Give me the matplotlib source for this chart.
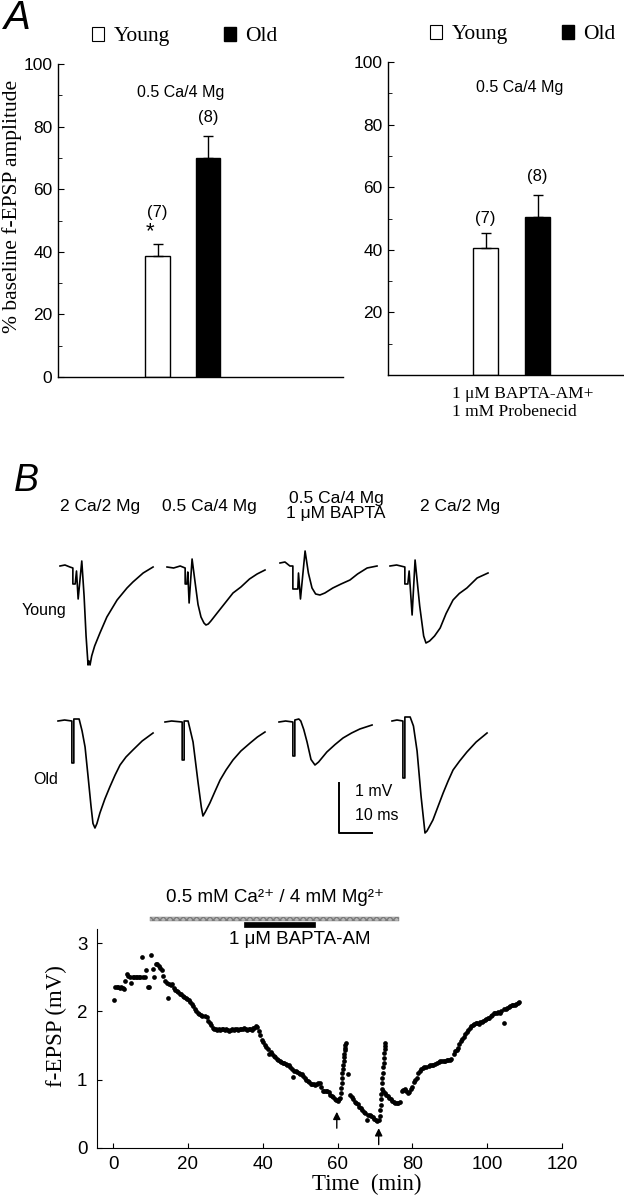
import matplotlib
matplotlib.use('Agg')
import matplotlib.pyplot as plt
from matplotlib.patches import Patch, Rectangle

plt.rcParams['font.family'] = ['Liberation Sans', 'DejaVu Sans']
SERIF = ['Liberation Serif', 'DejaVu Serif']

W, H = 624, 1199  # figure size in px

# ---------------- panel A data ----------------
groups = ['Young', 'Old']
ctrl_mean = [38.5, 70.0]
ctrl_sem = [4.0, 7.0]
bapta_mean = [40.5, 50.5]
bapta_sem = [5.0, 7.0]
n_cells = [7, 8]

# ---------------- panel B traces (ms, mV from baseline) ----------------
young1_t = [0, 1.5, 3.0, 3.9, 3.9, 4.6, 5.0, 5.5, 6.6, 7.3, 7.9, 8.5, 8.8, 9.1, 9.6, 10.5, 12.1, 14.2, 17.3, 20.3, 22.1, 25.2, 28.2]
young1_v = [0, 0.02, -0.02, -0.04, -0.36, -0.36, -0.1, -0.66, 0.1, -0.6, -1.4, -1.98, -1.9, -1.98, -1.8, -1.6, -1.34, -1.02, -0.68, -0.44, -0.32, -0.14, -0.02]
young2_t = [0, 2.0, 4.0, 5.5, 5.5, 6.0, 6.3, 6.7, 7.6, 8.5, 9.4, 10.3, 11.2, 11.8, 12.5, 13.3, 15.2, 17.6, 20.0, 22.4, 25.0, 27.3, 29.7]
young2_v = [0, -0.02, 0.02, -0.02, -0.34, -0.34, -0.1, -0.72, 0.16, -0.3, -0.75, -1.0, -1.12, -1.16, -1.14, -1.08, -0.92, -0.72, -0.52, -0.4, -0.24, -0.14, -0.06]
young3_t = [0, 1.5, 3.0, 3.9, 3.9, 5.4, 5.6, 6.2, 7.6, 8.6, 9.7, 10.8, 12.1, 13.6, 16.0, 18.5, 21.2, 23.5, 26.4, 29.4]
young3_v = [0, 0.02, -0.06, -0.06, -0.52, -0.52, -0.2, -0.72, 0.24, -0.2, -0.5, -0.62, -0.64, -0.6, -0.5, -0.42, -0.34, -0.22, -0.1, -0.06]
young4_t = [0, 2.0, 4.5, 4.5, 5.4, 5.8, 6.7, 7.6, 9.0, 10.2, 10.9, 12.0, 13.5, 15.2, 17.0, 19.1, 21.0, 23.3, 26.4, 29.7]
young4_v = [0, 0.02, -0.02, -0.36, -0.36, -0.1, -0.98, 0.12, -0.8, -1.4, -1.54, -1.5, -1.4, -1.24, -0.95, -0.68, -0.55, -0.44, -0.24, -0.14]

old1_t = [0, 2.0, 4.2, 4.2, 4.8, 4.8, 6.4, 7.3, 8.2, 9.1, 10.0, 10.6, 11.2, 11.8, 12.7, 14.2, 15.7, 17.3, 18.8, 20.6, 22.7, 25.5, 28.8]
old1_v = [0, 0.02, 0, -0.84, -0.84, 0.04, 0.04, -0.2, -0.52, -1.1, -1.7, -2.05, -2.14, -2.05, -1.84, -1.56, -1.32, -1.08, -0.88, -0.72, -0.58, -0.4, -0.24]
old2_t = [0, 2.0, 5.2, 5.2, 5.8, 5.8, 7.0, 8.5, 10.0, 11.0, 11.5, 12.2, 13.6, 15.2, 16.7, 18.5, 20.6, 23.0, 25.8, 28.0, 30.3]
old2_v = [0, 0.02, 0, -0.76, -0.76, 0.02, 0.02, -0.4, -1.2, -1.7, -1.88, -1.8, -1.62, -1.38, -1.16, -0.96, -0.76, -0.58, -0.42, -0.3, -0.2]
old3_t = [0, 2.0, 4.2, 4.2, 4.8, 4.8, 6.0, 6.6, 7.5, 8.5, 9.7, 10.9, 12.0, 14.5, 17.0, 19.4, 22.0, 24.5, 28.2]
old3_v = [0, 0.02, 0, -0.68, -0.68, 0.04, 0.06, 0.02, -0.15, -0.4, -0.75, -0.86, -0.8, -0.6, -0.45, -0.32, -0.22, -0.14, -0.06]
old4_t = [0, 1.5, 3.3, 3.3, 3.9, 3.9, 5.5, 6.5, 7.6, 8.8, 10.0, 10.6, 12.4, 14.0, 15.5, 17.0, 18.5, 20.5, 22.7, 25.5, 28.8]
old4_v = [0, 0.02, 0, -1.14, -1.14, 0.08, 0.08, -0.1, -0.6, -1.5, -2.24, -2.2, -1.98, -1.7, -1.44, -1.2, -0.98, -0.8, -0.62, -0.42, -0.24]

conditions = ['2 Ca/2 Mg', '0.5 Ca/4 Mg', '0.5 Ca/4 Mg\n1 \u03bcM BAPTA', '2 Ca/2 Mg']

# ---------------- time course (min, mV) ----------------
time_min = [
    0.2, 0.6, 1.0, 1.4, 1.8, 2.2, 2.6, 3.0, 3.3, 3.7, 4.0, 4.4, 4.8, 5.2, 5.6, 6.0, 6.4, 6.8, 7.2, 7.6,
    8.0, 8.4, 8.8, 9.3, 9.7, 10.1, 10.6, 11.0, 11.4, 11.8, 12.2, 12.6, 13.0, 13.4, 13.8, 14.3, 14.7, 15.0, 15.4, 15.8,
    16.2, 16.6, 17.0, 17.4, 17.8, 18.2, 18.6, 19.0, 19.4, 19.8, 20.2, 20.6, 21.0, 21.4, 21.8, 22.2, 22.6, 23.0, 23.4, 23.8,
    24.5, 25.0, 25.4, 25.8, 26.2, 26.6, 27.0, 27.4, 27.8, 28.2, 28.6, 29.0, 29.4, 29.8, 30.2, 30.6, 31.0, 31.4, 31.8, 32.2,
    32.6, 33.0, 33.4, 33.8, 34.2, 34.6, 35.0, 35.4, 35.8, 36.2, 36.6, 37.0, 37.4, 37.8, 38.2, 38.6, 39.0, 39.4, 39.8, 40.2,
    40.6, 41.0, 41.4, 41.8, 42.2, 42.6, 43.0, 43.4, 43.8, 44.2, 44.6, 45.0, 45.4, 45.8, 46.2, 46.6, 47.0, 47.4, 47.8, 48.1,
    48.4, 48.8, 49.2, 49.6, 50.0, 50.4, 50.8, 51.2, 51.6, 52.0, 52.4, 52.8, 53.2, 53.6, 54.0, 54.4, 54.8, 55.2, 55.6, 56.0,
    56.4, 56.8, 57.2, 57.6, 58.0, 58.4, 58.8, 59.2, 59.6, 60.0, 60.4, 60.7, 60.9, 61.0, 61.1, 61.2, 61.3, 61.4, 61.5, 61.6,
    61.7, 61.8, 61.9, 62.0, 62.1, 62.2, 62.8, 63.3, 63.8, 64.2, 64.6, 65.0, 65.4, 65.8, 66.2, 66.6, 67.0, 67.4, 67.8, 68.2,
    68.6, 69.0, 69.4, 69.8, 70.2, 70.6, 71.0, 71.3, 71.4, 71.5, 71.6, 71.7, 71.8, 71.9, 72.0, 72.1, 72.2, 72.3, 72.4, 72.5,
    72.6, 72.7, 72.8, 72.2, 72.6, 73.0, 73.4, 73.8, 74.2, 74.6, 75.0, 75.4, 75.8, 76.2, 76.6, 77.2, 77.6, 78.0, 78.4, 78.8,
    79.2, 79.6, 80.0, 80.4, 80.8, 81.2, 81.6, 82.0, 82.4, 82.8, 83.2, 83.6, 84.4, 84.8, 85.2, 85.6, 86.0, 86.6, 87.0, 87.4,
    87.8, 88.4, 88.8, 89.2, 89.6, 90.0, 90.4, 91.0, 91.4, 91.8, 92.2, 92.6, 93.0, 93.4, 93.8, 94.2, 94.6, 95.0, 95.4, 95.8,
    96.2, 96.6, 97.0, 97.4, 97.8, 98.2, 98.6, 99.0, 99.4, 99.8, 100.2, 100.6, 101.0, 101.4, 101.8, 102.2, 102.6, 103.0, 103.4, 103.8,
    104.5, 104.6, 105.0, 105.4, 105.8, 106.2, 106.6, 107.0, 107.4, 107.8, 108.2, 108.6,
]
fepsp_mv = [
    2.16, 2.35, 2.36, 2.35, 2.34, 2.36, 2.34, 2.33, 2.45, 2.55, 2.52, 2.50, 2.41, 2.50, 2.50, 2.50, 2.50, 2.50, 2.50, 2.79,
    2.50, 2.50, 2.61, 2.35, 2.36, 2.82, 2.62, 2.51, 2.70, 2.69, 2.66, 2.64, 2.60, 2.52, 2.44, 2.42, 2.20, 2.40, 2.38, 2.40,
    2.34, 2.32, 2.30, 2.28, 2.26, 2.25, 2.23, 2.21, 2.19, 2.18, 2.16, 2.14, 2.11, 2.08, 2.04, 2.00, 1.98, 1.96, 1.94, 1.93,
    1.93, 1.92, 1.86, 1.83, 1.80, 1.76, 1.74, 1.74, 1.73, 1.74, 1.73, 1.74, 1.74, 1.73, 1.74, 1.73, 1.72, 1.73, 1.74, 1.73,
    1.74, 1.74, 1.73, 1.74, 1.74, 1.74, 1.75, 1.74, 1.73, 1.74, 1.74, 1.73, 1.75, 1.76, 1.78, 1.77, 1.72, 1.66, 1.58, 1.55,
    1.51, 1.48, 1.45, 1.38, 1.41, 1.37, 1.35, 1.33, 1.31, 1.29, 1.27, 1.26, 1.25, 1.24, 1.23, 1.22, 1.21, 1.19, 1.16, 1.04,
    1.13, 1.12, 1.11, 1.10, 1.09, 1.08, 1.06, 1.02, 1.00, 0.98, 0.96, 0.93, 0.93, 0.93, 0.92, 0.93, 0.95, 0.95, 0.90, 0.84,
    0.83, 0.83, 0.83, 0.82, 0.78, 0.76, 0.74, 0.72, 0.70, 0.69, 0.71, 0.73, 0.80, 0.88, 0.95, 1.03, 1.10, 1.16, 1.22, 1.28,
    1.33, 1.38, 1.43, 1.47, 1.51, 1.54, 1.09, 0.77, 0.74, 0.71, 0.68, 0.66, 0.64, 0.60, 0.58, 0.55, 0.53, 0.51, 0.41, 0.49,
    0.48, 0.47, 0.45, 0.43, 0.41, 0.39, 0.41, 0.47, 0.55, 0.63, 0.71, 0.79, 0.87, 0.95, 1.03, 1.10, 1.18, 1.25, 1.32, 1.39,
    1.45, 1.50, 1.54, 0.83, 0.80, 0.78, 0.76, 0.73, 0.72, 0.69, 0.68, 0.66, 0.66, 0.66, 0.67, 0.83, 0.85, 0.87, 0.84, 0.81,
    0.82, 0.87, 0.90, 0.96, 1.00, 1.02, 1.10, 1.13, 1.16, 1.17, 1.18, 1.19, 1.20, 1.21, 1.22, 1.22, 1.23, 1.25, 1.26, 1.27,
    1.27, 1.28, 1.28, 1.29, 1.29, 1.29, 1.30, 1.38, 1.42, 1.44, 1.47, 1.52, 1.56, 1.60, 1.63, 1.67, 1.70, 1.73, 1.75, 1.78,
    1.80, 1.82, 1.83, 1.83, 1.82, 1.84, 1.85, 1.86, 1.87, 1.89, 1.90, 1.91, 1.93, 1.95, 1.97, 1.97, 1.98, 1.99, 1.98, 2.01,
    1.83, 2.03, 2.04, 2.05, 2.06, 2.08, 2.09, 2.10, 2.10, 2.11, 2.12, 2.13,
]
ca_mg_window = (10.0, 76.5)
bapta_window = (35.0, 54.0)
arrow_times = [59.8, 71.0]
arrow_tips = [0.53, 0.29]


def px_box(x0, y0, x1, y1):
    # pixel box (top-left origin) -> figure fraction rect
    return [x0 / W, 1 - y1 / H, (x1 - x0) / W, (y1 - y0) / H]


fig = plt.figure(figsize=(W / 100, H / 100), dpi=100)


# ---------------- panel A ----------------
def bar_panel(rect, xlim, means, sems, yticks, note_xy, n_xy, star=False):
    ax = fig.add_axes(rect)
    x = [0, 1]
    ax.bar(x, means, width=0.49, color=['white', 'black'], edgecolor='black', linewidth=1.0)
    ax.errorbar(x, means, yerr=[[0, 0], sems], fmt='none', ecolor='black',
                elinewidth=1.0, capsize=3.5, capthick=1.0)
    ax.set_xlim(*xlim)
    ax.set_ylim(0, 100)
    ax.set_xticks([])
    ax.set_yticks(yticks)
    ax.set_yticks(range(10, 100, 20), minor=True)
    ax.tick_params(axis='y', which='major', direction='in', length=4, pad=4, labelsize=12.5)
    ax.tick_params(axis='y', which='minor', direction='in', length=3)
    for s in ['top', 'right']:
        ax.spines[s].set_visible(False)
    for s in ['left', 'bottom']:
        ax.spines[s].set_linewidth(1.0)
    ax.text(note_xy[0], note_xy[1], '0.5 Ca/4 Mg', ha='center', va='center', fontsize=11.5)
    for xi, (nx, ny) in zip(x, n_xy):
        ax.text(nx, ny, f'({n_cells[xi]})', ha='center', va='center', fontsize=12)
    if star:
        ax.text(-0.15, 46.5, '*', ha='center', va='center', fontsize=16)
    handles = [Patch(facecolor='white', edgecolor='black', linewidth=0.8, label=groups[0]),
               Patch(facecolor='black', edgecolor='black', label=groups[1])]
    return ax, handles


axl, h = bar_panel(px_box(58, 64, 343, 377), (-1.97, 3.67), ctrl_mean, ctrl_sem,
                   range(0, 101, 20), (0.45, 91), [(0, 52.5), (1, 83)], star=True)
axl.legend(handles=h, loc='center left', bbox_to_anchor=(0.12, 1.087), ncol=2, frameon=False,
           prop={'family': SERIF, 'size': 15.5}, handlelength=0.55, handleheight=0.6,
           handletextpad=0.45, columnspacing=2.5, borderpad=0, borderaxespad=0)

axr, h = bar_panel(px_box(388, 62, 624, 375), (-1.875, 2.66), bapta_mean, bapta_sem,
                   range(20, 101, 20), (0.66, 92), [(0, 50), (1, 63.5)])
axr.legend(handles=h, loc='center left', bbox_to_anchor=(0.18, 1.087), ncol=2, frameon=False,
           prop={'family': SERIF, 'size': 15.5}, handlelength=0.55, handleheight=0.6,
           handletextpad=0.45, columnspacing=2.5, borderpad=0, borderaxespad=0)

fig.text(12.5 / W, 1 - 206 / H, '% baseline f-EPSP amplitude', rotation=90, ha='center', va='center',
         family=SERIF, fontsize=15.5)
fig.text(4 / W, 1 - 18 / H, 'A', style='italic', fontsize=29, ha='left', va='center')
fig.text(452 / W, 1 - 403 / H, '1 \u03bcM BAPTA-AM+\n1 mM Probenecid', ha='left', va='center',
         family=SERIF, fontsize=12.5, linespacing=1.15)

# ---------------- panel B ----------------
fig.text(14 / W, 1 - 481 / H, 'B', style='italic', fontsize=27, ha='left', va='center')
for cx, lab in zip([100, 209, 336, 460], conditions):
    fig.text(cx / W, 1 - 506 / H, lab, ha='center', va='center', fontsize=12.5, linespacing=1.0)
fig.text(22 / W, 1 - 610 / H, 'Young', ha='left', va='center', fontsize=11.5)
fig.text(33 / W, 1 - 780 / H, 'Old', ha='left', va='center', fontsize=11.5)

PX_MS, PX_MV = 3.3, 50.0
T_LIM, V_LIM = (-1, 31), (-2.5, 0.5)


def trace_ax(x0, y0):
    ax = fig.add_axes(px_box(x0 + T_LIM[0] * PX_MS, y0 - V_LIM[1] * PX_MV,
                             x0 + T_LIM[1] * PX_MS, y0 - V_LIM[0] * PX_MV))
    ax.set_xlim(*T_LIM)
    ax.set_ylim(*V_LIM)
    ax.axis('off')
    return ax


young = [(young1_t, young1_v), (young2_t, young2_v), (young3_t, young3_v), (young4_t, young4_v)]
old = [(old1_t, old1_v), (old2_t, old2_v), (old3_t, old3_v), (old4_t, old4_v)]
for (x0, y0), (t, v) in zip([(60, 566), (167, 567), (280, 563), (390, 566)], young):
    trace_ax(x0, y0).plot(t, v, color='black', lw=1.2)
old_axes = []
for (x0, y0), (t, v) in zip([(58, 721), (165, 722), (279, 722), (392, 721)], old):
    a = trace_ax(x0, y0)
    a.plot(t, v, color='black', lw=1.2)
    old_axes.append(a)

# scale bar: 10 ms x 1 mV
sb = old_axes[2]
sb.plot([18.2, 18.2, 28.2], [-1.22, -2.22, -2.22], color='black', lw=1.4, clip_on=False)
sb.text(23.0, -1.4, '1 mV', ha='left', va='center', fontsize=11.5)
sb.text(23.0, -1.86, '10 ms', ha='left', va='center', fontsize=11.5)

# ---------------- time course ----------------
axt = fig.add_axes(px_box(97, 929.4, 562, 1148))
axt.plot(time_min, fepsp_mv, 'o', color='black', ms=3.4, mec='none')
axt.set_xlim(-4.3, 120)
axt.set_ylim(0, 3.2)
axt.set_xticks(range(0, 121, 20))
axt.set_yticks([0, 1, 2, 3])
axt.tick_params(direction='in', length=3.5, labelsize=13.5)
axt.tick_params(axis='x', pad=6)
axt.tick_params(axis='y', pad=7)
for s in ['top', 'right']:
    axt.spines[s].set_visible(False)
axt.add_patch(Rectangle((ca_mg_window[0], 3.32), ca_mg_window[1] - ca_mg_window[0], 0.06,
                        facecolor='#b8b8b8', edgecolor='#7a7a7a', hatch='xxxxx', lw=0.3, clip_on=False))
axt.add_patch(Rectangle((bapta_window[0], 3.235), bapta_window[1] - bapta_window[0], 0.07,
                        facecolor='black', edgecolor='black', lw=0.5, clip_on=False))
axt.text(43.2, 3.66, '0.5 mM Ca\u00b2\u207a / 4 mM Mg\u00b2\u207a', ha='center', va='center', fontsize=13.5)
axt.text(49.9, 3.05, '1 \u03bcM BAPTA-AM', ha='center', va='center', fontsize=13.5)
for at, tip in zip(arrow_times, arrow_tips):
    axt.annotate('', xy=(at, tip), xytext=(at, tip - 0.24),
                 arrowprops=dict(arrowstyle='-|>', color='black', lw=1.0, mutation_scale=11,
                                 shrinkA=0, shrinkB=0))
fig.text(56 / W, 1 - 1026 / H, 'f-EPSP (mV)', rotation=90, ha='center', va='center', family=SERIF, fontsize=16.5)
fig.text(367 / W, 1 - 1184 / H, 'Time  (min)', ha='center', va='center', family=SERIF, fontsize=16.5)

fig.savefig('out.png', dpi=100)
